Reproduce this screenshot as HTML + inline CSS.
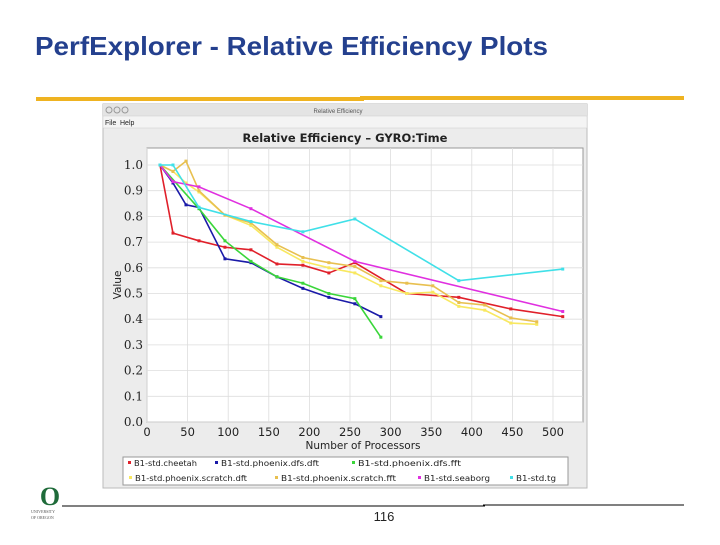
<!DOCTYPE html>
<html><head><meta charset="utf-8"><style>
body{margin:0;width:720px;height:540px;background:#fff;overflow:hidden;font-family:"Liberation Sans",sans-serif}
</style></head><body>
<svg width="720" height="540" xmlns="http://www.w3.org/2000/svg">
<text x="35" y="55" font-size="26" font-weight="bold" fill="#24408e" textLength="513" lengthAdjust="spacingAndGlyphs" font-family="Liberation Sans, sans-serif">PerfExplorer - Relative Efficiency Plots</text>
<rect x="36" y="97" width="328" height="4" fill="#efb321"/>
<rect x="360" y="96" width="324" height="4" fill="#efb321"/>
<g>
<rect x="103" y="104" width="484" height="384" fill="#ececec" stroke="#bbb"/>
<rect x="103" y="104" width="484" height="12" fill="#e4e4e4"/>
<circle cx="109" cy="110" r="3" fill="none" stroke="#999"/>
<circle cx="117" cy="110" r="3" fill="none" stroke="#999"/>
<circle cx="125" cy="110" r="3" fill="none" stroke="#999"/>
<text x="338" y="113" font-size="6" fill="#555" text-anchor="middle">Relative Efficiency</text>
<rect x="103" y="116" width="484" height="12" fill="#f4f4f4" stroke="#ccc" stroke-width="0.5"/>
<text x="105" y="125" font-size="7" fill="#222">File</text>
<text x="120" y="125" font-size="7" fill="#222">Help</text>
<text x="345" y="142" font-size="11.5" font-weight="bold" fill="#222" text-anchor="middle" font-family="DejaVu Sans, sans-serif">Relative Efficiency – GYRO:Time</text>
</g>
<g id="plot"></g>
<text x="363" y="449" font-size="10.5" fill="#222" text-anchor="middle" font-family="DejaVu Sans, sans-serif">Number of Processors</text>
<text transform="translate(121,285) rotate(-90)" font-size="10.5" fill="#222" text-anchor="middle" font-family="DejaVu Sans, sans-serif">Value</text>
<g id="legend">
<rect x="123" y="457" width="445" height="28" fill="#fff" stroke="#999"/>
</g>
<text x="50" y="505" font-size="26" font-weight="bold" fill="#1f6b3a" text-anchor="middle" font-family="Liberation Serif, serif">O</text>
<text x="31" y="513" font-size="4" fill="#555" font-family="Liberation Serif, serif">UNIVERSITY</text>
<text x="31" y="519" font-size="4" fill="#555" font-family="Liberation Serif, serif">OF OREGON</text>
<line x1="62" y1="506" x2="485" y2="506" stroke="#000" stroke-width="1"/>
<line x1="483" y1="505" x2="684" y2="505" stroke="#000" stroke-width="1"/>
<text x="384" y="521" font-size="13" fill="#222" text-anchor="middle">116</text>
</svg>
<script>
const seriesNames=["B1-std.cheetah","B1-std.phoenix.dfs.dft","B1-std.phoenix.dfs.fft","B1-std.phoenix.scratch.dft","B1-std.phoenix.scratch.fft","B1-std.seaborg","B1-std.tg"];
const seriesColors=["#e0202a","#1a1aa8","#3ad63a","#f8e860","#e8c050","#e030e0","#40e0e8"];
const cheetahX=[16,32,64,96,128,160,192,224,256,320,384,448,512];
const cheetahY=[1.0,0.735,0.705,0.68,0.67,0.615,0.61,0.58,0.62,0.50,0.485,0.44,0.41];
const dfsDftX=[16,32,48,64,96,128,160,192,224,256,288];
const dfsDftY=[1.0,0.93,0.845,0.835,0.635,0.62,0.565,0.52,0.485,0.46,0.41];
const dfsFftX=[16,64,96,128,160,192,224,256,288];
const dfsFftY=[1.0,0.83,0.705,0.625,0.565,0.54,0.5,0.48,0.33];
const scrDftX=[16,32,48,64,96,128,160,192,224,256,288,320,352,384,416,448,480];
const scrDftY=[1.0,0.975,0.93,0.895,0.805,0.765,0.68,0.625,0.6,0.58,0.53,0.5,0.505,0.45,0.435,0.385,0.38];
const scrFftX=[16,32,48,64,96,128,160,192,224,256,288,320,352,384,416,448,480];
const scrFftY=[1.0,0.975,1.015,0.9,0.805,0.775,0.69,0.64,0.62,0.605,0.55,0.54,0.53,0.465,0.455,0.405,0.39];
const seaborgX=[16,32,64,128,256,512];
const seaborgY=[1.0,0.935,0.915,0.83,0.625,0.43];
const tgX=[16,32,64,128,192,256,384,512];
const tgY=[1.0,1.0,0.835,0.78,0.74,0.79,0.55,0.595];
const xTicks=[0,50,100,150,200,250,300,350,400,450,500];
const yTicks=[0.0,0.1,0.2,0.3,0.4,0.5,0.6,0.7,0.8,0.9,1.0];
const allX=[cheetahX,dfsDftX,dfsFftX,scrDftX,scrFftX,seaborgX,tgX];
const allY=[cheetahY,dfsDftY,dfsFftY,scrDftY,scrFftY,seaborgY,tgY];
const NS="http://www.w3.org/2000/svg";
const L=147,R=583,T=148,B=422;
const xs=v=>L+v*(553-147)/500;
const ys=v=>B-v*(B-165)/1.0;
const g=document.getElementById('plot');
function mk(tag,at,parent){const e=document.createElementNS(NS,tag);for(const k in at)e.setAttribute(k,at[k]);(parent||g).appendChild(e);return e;}
const bg=mk('rect',{x:L,y:T,width:R-L,height:B-T,fill:'#fff',stroke:'#999'});


xTicks.forEach(t=>{
  const gl=mk('line',{x1:xs(t),x2:xs(t),y1:T,y2:B,stroke:'#ddd','stroke-width':0.8});
  
  
  const tx=mk('text',{x:xs(t),y:436,'font-size':11.5,'text-anchor':'middle',fill:'#222','font-family':'DejaVu Sans, sans-serif'});
  tx.textContent=t;
  
  
});
yTicks.forEach(t=>{
  const gl=mk('line',{x1:L,x2:R,y1:ys(t),y2:ys(t),stroke:'#ddd','stroke-width':0.8});
  
  
  const tx=mk('text',{x:143,y:ys(t)+4,'font-size':12,'text-anchor':'end',fill:'#222','font-family':'DejaVu Serif, serif'});
  tx.textContent=t.toFixed(1);
  
  
});
allX.forEach((X,i)=>{
  const pts=X.map((x,j)=>xs(x)+','+ys(allY[i][j])).join(' ');
  const pl=mk('polyline',{points:pts,fill:'none',stroke:seriesColors[i],'stroke-width':1.6});
  
  
  X.forEach((x,j)=>{
    const m=mk('rect',{x:xs(x)-1.5,y:ys(allY[i][j])-1.5,width:3,height:3,fill:seriesColors[i]});
    
    
  });
});
const lg=document.getElementById('legend');
const lpos=[[128,466],[215,466],[352,466],[129,481],[275,481],[418,481],[510,481]];
const lw=[63,98,103,112,115,66,40];
seriesNames.forEach((n,i)=>{
  const m=mk('rect',{x:lpos[i][0],y:lpos[i][1]-5,width:3,height:3,fill:seriesColors[i]},lg);
  
  
  const t=mk('text',{x:lpos[i][0]+6,y:lpos[i][1],'font-size':8,fill:'#222','font-family':'DejaVu Sans, sans-serif',textLength:lw[i],lengthAdjust:'spacingAndGlyphs'},lg);
  t.textContent=n;
  
  
});
</script>
</body></html>
